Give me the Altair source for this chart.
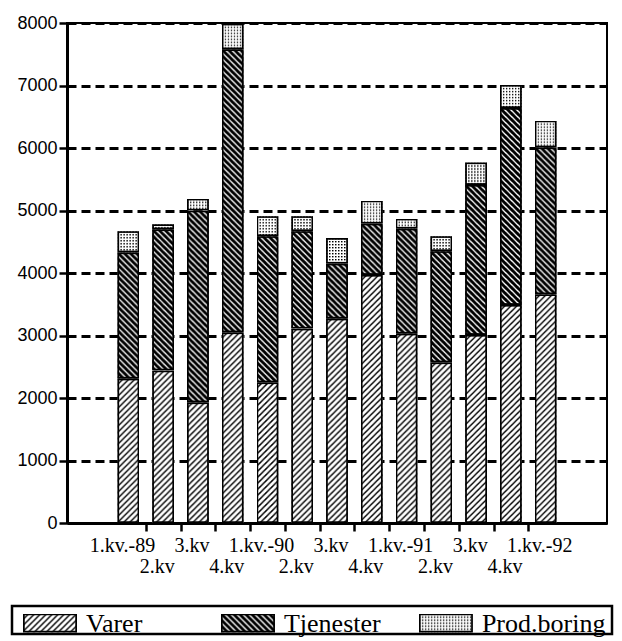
import altair as alt
import pandas as pd
import base64
import json

# ---- data ----
periods = list(range(13))
labels = ["1.kv.-89", "2.kv", "3.kv", "4.kv", "1.kv.-90", "2.kv", "3.kv", "4.kv",
          "1.kv.-91", "2.kv", "3.kv", "4.kv", "1.kv.-92"]
series = ["Varer", "Tjenester", "Prod.boring"]
varer = [2310, 2440, 1930, 3050, 2250, 3110, 3270, 3970, 3030, 2570, 3010, 3490, 3660]
tjenester = [2020, 2260, 3070, 4530, 2340, 1560, 880, 820, 1680, 1780, 2400, 3150, 2350]
prod_boring = [340, 80, 190, 410, 320, 240, 410, 370, 160, 240, 360, 370, 430]

# empty slot on each side of the bars
x_domain = [periods[0] - 1] + periods + [periods[-1] + 1]

# ---- hatch patterns as SVG images ----
def svg_uri(tile, size):
    svg = ('<svg xmlns="http://www.w3.org/2000/svg" width="100%" height="100%">'
           f'<defs><pattern id="p" patternUnits="userSpaceOnUse" width="{size}" height="{size}">{tile}</pattern></defs>'
           '<rect width="100%" height="100%" fill="url(#p)"/>'
           '<rect width="100%" height="100%" fill="none" stroke="black" stroke-width="3.5"/>'
           '</svg>')
    return "data:image/svg+xml;base64," + base64.b64encode(svg.encode()).decode()

tile_varer = ('<rect width="6" height="6" fill="white"/>'
              '<path d="M-1,1L1,-1M0,6L6,0M5,7L7,5" stroke="black" stroke-width="1.4"/>')
tile_tjen = ('<rect width="6" height="6" fill="white"/>'
             '<path d="M-1,5L1,7M0,0L6,6M5,-1L7,1" stroke="black" stroke-width="3"/>')
tile_prod = ('<rect width="3" height="3" fill="white"/>'
             '<rect x="0" y="0" width="1.4" height="1.4" fill="black"/>')

urls = {"Varer": svg_uri(tile_varer, 6), "Tjenester": svg_uri(tile_tjen, 6),
        "Prod.boring": svg_uri(tile_prod, 3)}
url_expr = (f"datum.series === 'Varer' ? '{urls['Varer']}' : "
            f"datum.series === 'Tjenester' ? '{urls['Tjenester']}' : '{urls['Prod.boring']}'")

rows = []
for i in periods:
    for k, (s, vals) in enumerate(zip(series, [varer, tjenester, prod_boring])):
        rows.append({"idx": i, "series": s, "value": vals[i], "order": k})
df = pd.DataFrame(rows)

label_expr = (f"datum.value < {periods[0]} || datum.value > {periods[-1]} ? '' : "
              + json.dumps(labels) + "[datum.value]")
tick_hide = f"datum.value <= {periods[0]} || datum.value > {periods[-1]}"
second_row = "datum.value % 2 === 1"

x = alt.X("idx:O", title=None,
          scale=alt.Scale(type="band", domain=x_domain, paddingInner=0.37, paddingOuter=0.45),
          axis=alt.Axis(labelExpr=label_expr, labelAngle=0, labelOverlap=False,
                        labelFont="Liberation Serif", labelFontSize=20, labelColor="black",
                        labelPadding={"condition": {"test": second_row, "value": 25}, "value": 4},
                        bandPosition=0, tickOffset=-6.4, tickSize=8, tickWidth=2.5,
                        tickColor="black",
                        tickOpacity={"condition": {"test": tick_hide, "value": 0}, "value": 1},
                        domainColor="black", domainWidth=3, grid=False))

y = alt.Y("y0:Q", title=None, scale=alt.Scale(domain=[0, 8000], nice=False),
          axis=alt.Axis(values=list(range(0, 8001, 1000)), format="d",
                        labelFont="Liberation Sans", labelFontSize=18, labelColor="black",
                        labelPadding=2, tickSize=8, tickWidth=2.5, tickColor="black",
                        domainColor="black", domainWidth=3,
                        grid=True, gridColor="black", gridDash=[9, 5], gridWidth=3,
                        gridOpacity=1))

main = (alt.Chart(df)
        .transform_stack(stack="value", groupby=["idx"], as_=["y0", "y1"],
                         sort=[alt.SortField("order", order="ascending")])
        .transform_calculate(url=url_expr)
        .mark_image(aspect=False)
        .encode(x=x, y=y, y2="y1:Q", url="url:N")
        .properties(width=540, height=500))

# ---- legend panel ----
leg_df = pd.DataFrame({"series": series, "yy": [0.5] * len(series)})
lx = alt.X("series:N", sort=series, axis=None, title=None,
           scale=alt.Scale(type="point", padding=0.364, align=0))
ly = alt.Y("yy:Q", axis=None, title=None, scale=alt.Scale(domain=[0, 1]))
leg_base = alt.Chart(leg_df).transform_calculate(url=url_expr)
swatch = leg_base.mark_image(aspect=False, width=54, height=19, xOffset=-17, yOffset=3).encode(
    x=lx, y=ly, url="url:N")
text = leg_base.mark_text(align="left", baseline="middle", xOffset=19, dy=4.2,
                          font="Liberation Serif", fontSize=26, color="black").encode(
    x=lx, y=ly, text="series:N")
frame = (alt.Chart(leg_df).transform_aggregate(n="count()")
         .mark_rect(fillOpacity=0, stroke="black", strokeWidth=2.5)
         .encode(x=alt.value(-55), x2=alt.value(545), y=alt.value(0), y2=alt.value(28)))
legend = (alt.layer(frame, swatch, text)
          .properties(width=540, height=28, view=alt.ViewBackground(strokeOpacity=0)))

chart = (alt.concat(main, legend, columns=1, spacing=27)
         .properties(padding={"left": 2, "top": 5, "right": 0, "bottom": 0})
         .configure_view(stroke="black", strokeWidth=2))

chart.save("out.html", embed_options={"renderer": "svg", "actions": False})
